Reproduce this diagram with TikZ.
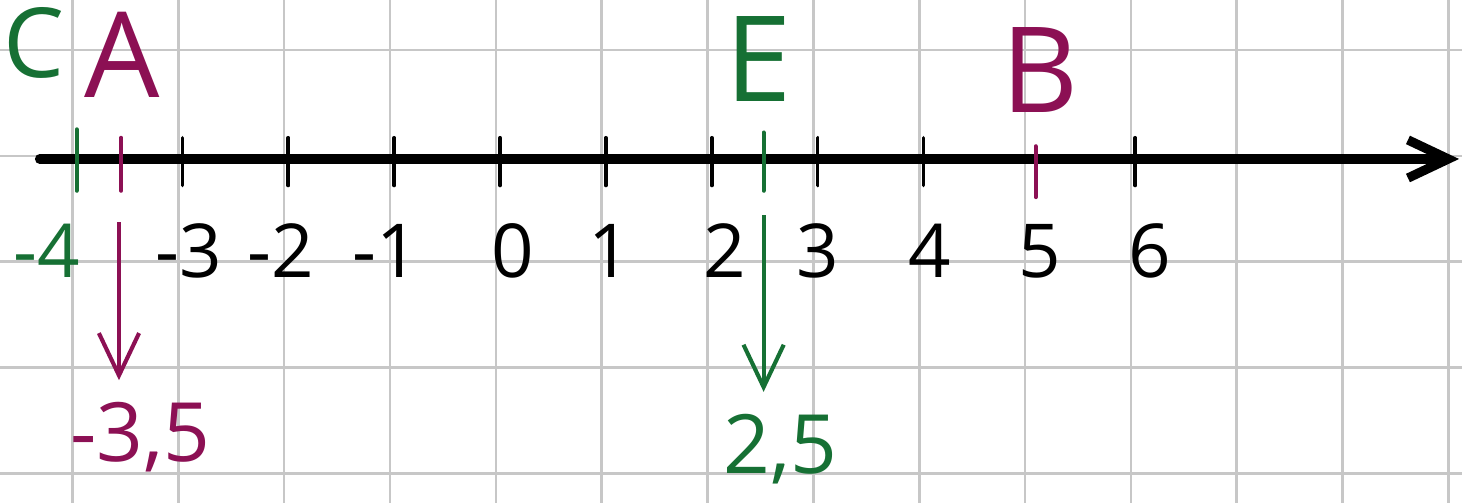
\documentclass[tikz,border=0pt]{standalone}
\usepackage{fontspec}
\setmainfont{Open Sans}
\usepackage{xcolor}
\usepackage{tikz}
\usetikzlibrary{arrows.meta, positioning}

\definecolor{penGreen}{RGB}{22,112,52}
\definecolor{penPurple}{RGB}{140,16,84}

\begin{document}
\begin{tikzpicture}[
    gridline/.style={draw=black!22, line width=0.7pt},
    axis/.style={draw, -{Straight Barb[length=3.8mm, width=3.6mm]}, line width=2.5pt, line cap=round},
    tick/.style={draw, line width=1pt, line cap=round},
    pttick/.style={draw, line width=1.1pt, line cap=round},
    ptlabel/.style={inner sep=0pt, font=\fontsize{32}{36}\selectfont},
    numlabel/.style={inner sep=0pt, anchor=base, font=\fontsize{20}{24}\selectfont},
    vallabel/.style={inner sep=0pt, anchor=north, font=\fontsize{22}{26}\selectfont},
    valarrow/.style={draw, -{Straight Barb[length=4mm, width=3.8mm]}, line width=1.1pt, shorten >=0.2cm}
]
    % paper
    \useasboundingbox (-4.724,-3.25) rectangle (9.088,1.502);
    \fill [white] (-4.724,-3.25) rectangle (9.088,1.502);
    \foreach \k in {0,...,13}
        \path [gridline] ({\k-4.04},-3.25) -- ({\k-4.04},1.502);
    \foreach \k in {0,...,4}
        \path [gridline] (-4.724,{1.03-\k}) -- (9.088,{1.03-\k});

    % number line
    \coordinate (axisStart) at (-4.35,0);
    \coordinate (axisEnd) at (9.06,0);
    \path [axis] (axisStart) -- (axisEnd);
    \foreach \n in {-3,-2,-1,0,1,2,3,4,6}
        \path [tick] (\n,0.2) -- (\n,-0.25);

    \foreach \val/\px in {-3/-2.94, -2/-2.07, -1/-1.08, 0/0.12, 1/1.04, 2/2.12, 3/3.0, 4/4.06, 5/5.10, 6/6.14}
        \node (num\val) [numlabel] at (\px,-1.115) {\val};
    \node (numC) [numlabel, text=penGreen] at (-4.28,-1.115) {-4};

    % points
    \path [pttick, penGreen] (-4.0,0.28) -- (-4.0,-0.3);
    \path [pttick, penPurple] (-3.58,0.2) -- (-3.58,-0.3);
    \path [pttick, penGreen] (2.49,0.25) -- (2.49,-0.3);
    \path [pttick, penPurple] (5.06,0.12) -- (5.06,-0.36);

    \node (ptC) [ptlabel, text=penGreen, font=\fontsize{26}{30}\selectfont] at (-4.40,1.10) {C};
    \node (ptA) [ptlabel, text=penPurple] at (-3.57,0.98) {A};
    \node (ptE) [ptlabel, text=penGreen] at (2.44,0.94) {E};
    \node (ptB) [ptlabel, text=penPurple] at (5.10,0.84) {B};

    % values
    \node (valA) [vallabel, text=penPurple] at (-3.40,-2.29) {-3,5};
    \node (valE) [vallabel, text=penGreen] at (2.65,-2.40) {2,5};
    \coordinate (aTop) at (-3.60,-0.60);
    \coordinate (eTop) at (2.49,-0.53);

    \path [valarrow, penPurple] (aTop) -- (aTop |- valA.north);
    \path [valarrow, penGreen] (eTop) -- (eTop |- valE.north);
\end{tikzpicture}
\end{document}
